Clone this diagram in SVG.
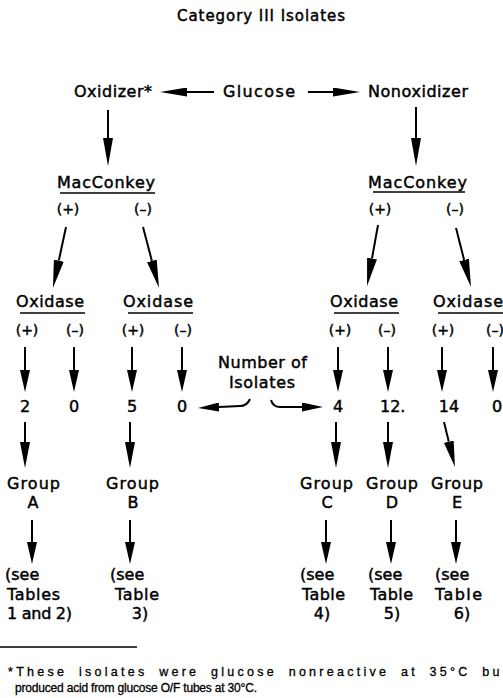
<svg xmlns="http://www.w3.org/2000/svg" width="503" height="698" viewBox="0 0 503 698">
<style>
text { font-family: "DejaVu Sans", "Liberation Sans", sans-serif; font-size: 16px; fill: #000; stroke: #000; stroke-width: 0.45; }
.title { font-size: 15px; }
.pm { font-size: 14px; text-anchor: middle; }
.mid { text-anchor: middle; }
.fn { font-family: "Liberation Sans", Arial, sans-serif; font-size: 12.5px; stroke-width: 0.3; }
.ln { stroke: #000; stroke-width: 2; fill: none; }
.ul { stroke: #000; stroke-width: 1.4; }
</style>
<defs>
<marker id="hL" markerUnits="userSpaceOnUse" markerWidth="28" markerHeight="10" viewBox="0 0 28 10" refX="0" refY="5" orient="auto"><path d="M0,0 L28,5 L0,10 Z" fill="#000"/></marker>
<marker id="hM" markerUnits="userSpaceOnUse" markerWidth="26" markerHeight="10" viewBox="0 0 26 10" refX="0" refY="5" orient="auto"><path d="M0,0 L26,5 L0,10 Z" fill="#000"/></marker>
<marker id="hS" markerUnits="userSpaceOnUse" markerWidth="22" markerHeight="10" viewBox="0 0 22 10" refX="0" refY="5" orient="auto"><path d="M0,0 L22,5 L0,10 Z" fill="#000"/></marker>
<marker id="hH" markerUnits="userSpaceOnUse" markerWidth="27" markerHeight="9" viewBox="0 0 27 9" refX="0" refY="4.5" orient="auto"><path d="M0,0 L27,4.5 L0,9 Z" fill="#000"/></marker>
<marker id="hN" markerUnits="userSpaceOnUse" markerWidth="21" markerHeight="9" viewBox="0 0 21 9" refX="0" refY="4.5" orient="auto"><path d="M0,0 L21,4.5 L0,9 Z" fill="#000"/></marker>
</defs>

<g id="title"><text class="title" x="177" y="21" textLength="168" lengthAdjust="spacing">Category III Isolates</text></g>

<g id="oxidizer"><text x="74" y="97" textLength="78" lengthAdjust="spacing">Oxidizer*</text></g>
<g id="glucose"><text x="223" y="97" textLength="72" lengthAdjust="spacing">Glucose</text></g>
<g id="nonoxidizer"><text x="368" y="97" textLength="100" lengthAdjust="spacing">Nonoxidizer</text></g>

<g id="macconkey-left">
<text x="57" y="188" textLength="98" lengthAdjust="spacing">MacConkey</text>
<line class="ul" x1="60" y1="193" x2="155" y2="193"/>
<text class="pm" x="68" y="214">(+)</text>
<text class="pm" x="143" y="214">(–)</text>
</g>
<g id="macconkey-right">
<text x="368" y="188" textLength="99" lengthAdjust="spacing">MacConkey</text>
<line class="ul" x1="373" y1="192" x2="465" y2="192"/>
<text class="pm" x="380" y="214">(+)</text>
<text class="pm" x="455" y="214">(–)</text>
</g>

<g id="oxidase-1">
<text x="16" y="307" textLength="68" lengthAdjust="spacing">Oxidase</text>
<line class="ul" x1="20" y1="313" x2="85" y2="313"/>
<text class="pm" x="27" y="335">(+)</text>
<text class="pm" x="75" y="335">(–)</text>
</g>
<g id="oxidase-2">
<text x="123" y="307" textLength="70" lengthAdjust="spacing">Oxidase</text>
<line class="ul" x1="128" y1="313" x2="193" y2="313"/>
<text class="pm" x="133" y="335">(+)</text>
<text class="pm" x="183" y="335">(–)</text>
</g>
<g id="oxidase-3">
<text x="330" y="307" textLength="68" lengthAdjust="spacing">Oxidase</text>
<line class="ul" x1="334" y1="313" x2="399" y2="313"/>
<text class="pm" x="340" y="335">(+)</text>
<text class="pm" x="387" y="335">(–)</text>
</g>
<g id="oxidase-4">
<text x="433" y="307" textLength="70" lengthAdjust="spacing">Oxidase</text>
<line class="ul" x1="438" y1="313" x2="503" y2="313"/>
<text class="pm" x="443" y="335">(+)</text>
<text class="pm" x="495" y="335">(–)</text>
</g>

<g id="number-of-isolates">
<text x="218" y="368" textLength="89" lengthAdjust="spacing">Number of</text>
<text x="229" y="388" textLength="66" lengthAdjust="spacing">Isolates</text>
</g>

<g id="counts">
<text class="mid" x="25" y="412">2</text>
<text class="mid" x="74" y="412">0</text>
<text class="mid" x="132" y="412">5</text>
<text class="mid" x="182" y="412">0</text>
<text class="mid" x="338" y="412">4</text>
<text x="380" y="412">12.</text>
<text class="mid" x="449" y="412">14</text>
<text class="mid" x="497" y="412">0</text>
</g>

<g id="group-a"><text x="7" y="489" textLength="53" lengthAdjust="spacing">Group</text><text class="mid" x="33" y="508">A</text></g>
<g id="group-b"><text x="106" y="489" textLength="53" lengthAdjust="spacing">Group</text><text class="mid" x="133" y="508">B</text></g>
<g id="group-c"><text x="300" y="489" textLength="53" lengthAdjust="spacing">Group</text><text class="mid" x="327" y="508">C</text></g>
<g id="group-d"><text x="366" y="489" textLength="52" lengthAdjust="spacing">Group</text><text class="mid" x="392" y="508">D</text></g>
<g id="group-e"><text x="431" y="489" textLength="52" lengthAdjust="spacing">Group</text><text class="mid" x="457" y="508">E</text></g>

<g id="see-a"><text x="5" y="580">(see</text><text x="7" y="600" textLength="53" lengthAdjust="spacing">Tables</text><text x="7" y="619" textLength="65" lengthAdjust="spacing">1 and 2)</text></g>
<g id="see-b"><text x="110" y="580">(see</text><text x="115" y="600" textLength="44" lengthAdjust="spacing">Table</text><text class="mid" x="140" y="619">3)</text></g>
<g id="see-c"><text x="300" y="580">(see</text><text x="302" y="600" textLength="43" lengthAdjust="spacing">Table</text><text class="mid" x="322" y="619">4)</text></g>
<g id="see-d"><text x="368" y="580">(see</text><text x="370" y="600" textLength="43" lengthAdjust="spacing">Table</text><text class="mid" x="392" y="619">5)</text></g>
<g id="see-e"><text x="435" y="580">(see</text><text x="435" y="600" textLength="47" lengthAdjust="spacing">Table</text><text class="mid" x="462" y="619">6)</text></g>

<g id="connectors">
<line class="ln" x1="214" y1="92" x2="187" y2="92" marker-end="url(#hH)"/>
<line class="ln" x1="308" y1="92" x2="333" y2="92" marker-end="url(#hH)"/>
<line class="ln" x1="108" y1="110" x2="108" y2="138" marker-end="url(#hL)"/>
<line class="ln" x1="416" y1="107" x2="416" y2="138" marker-end="url(#hL)"/>
<line class="ln" x1="66" y1="227" x2="58.8" y2="260.6" marker-end="url(#hL)"/>
<line class="ln" x1="143" y1="227" x2="151.9" y2="260.9" marker-end="url(#hL)"/>
<line class="ln" x1="378" y1="225" x2="372" y2="258.5" marker-end="url(#hL)"/>
<line class="ln" x1="456" y1="228" x2="464.1" y2="259.9" marker-end="url(#hL)"/>

<line class="ln" x1="25" y1="347" x2="25" y2="370" marker-end="url(#hS)"/>
<line class="ln" x1="74" y1="347" x2="74" y2="370" marker-end="url(#hS)"/>
<line class="ln" x1="132" y1="347" x2="132" y2="370" marker-end="url(#hS)"/>
<line class="ln" x1="182" y1="347" x2="182" y2="370" marker-end="url(#hS)"/>
<line class="ln" x1="338" y1="347" x2="338" y2="370" marker-end="url(#hS)"/>
<line class="ln" x1="388" y1="347" x2="388" y2="370" marker-end="url(#hS)"/>
<line class="ln" x1="442" y1="347" x2="442" y2="370" marker-end="url(#hS)"/>
<line class="ln" x1="493" y1="347" x2="493" y2="370" marker-end="url(#hS)"/>

<path class="ln" d="M250,399 Q247,406 240,406 L219,407" marker-end="url(#hN)"/>
<path class="ln" d="M271,400 Q273,407 280,407 L302,407" marker-end="url(#hN)"/>

<line class="ln" x1="25" y1="422" x2="25" y2="442" marker-end="url(#hM)"/>
<line class="ln" x1="130" y1="422" x2="130" y2="442" marker-end="url(#hM)"/>
<line class="ln" x1="336" y1="422" x2="336" y2="442" marker-end="url(#hM)"/>
<line class="ln" x1="388" y1="422" x2="388" y2="442" marker-end="url(#hM)"/>
<line class="ln" x1="444" y1="422" x2="448.8" y2="441.7" marker-end="url(#hM)"/>

<line class="ln" x1="32" y1="520" x2="32" y2="542" marker-end="url(#hS)"/>
<line class="ln" x1="130" y1="520" x2="130" y2="542" marker-end="url(#hS)"/>
<line class="ln" x1="326" y1="520" x2="326" y2="542" marker-end="url(#hS)"/>
<line class="ln" x1="391" y1="520" x2="391" y2="542" marker-end="url(#hS)"/>
<line class="ln" x1="456" y1="520" x2="456" y2="542" marker-end="url(#hS)"/>
</g>

<g id="footnote">
<line x1="0" y1="647" x2="137" y2="647" stroke="#000" stroke-width="1.5"/>
<text class="fn" x="8" y="676" letter-spacing="3.5" word-spacing="5" textLength="495" lengthAdjust="spacing">*These isolates were glucose nonreactive at 35°C bu</text>
<text class="fn" x="15" y="692" style="font-size:12px" textLength="242" lengthAdjust="spacing">produced acid from glucose O/F tubes at 30°C.</text>
</g>
</svg>
